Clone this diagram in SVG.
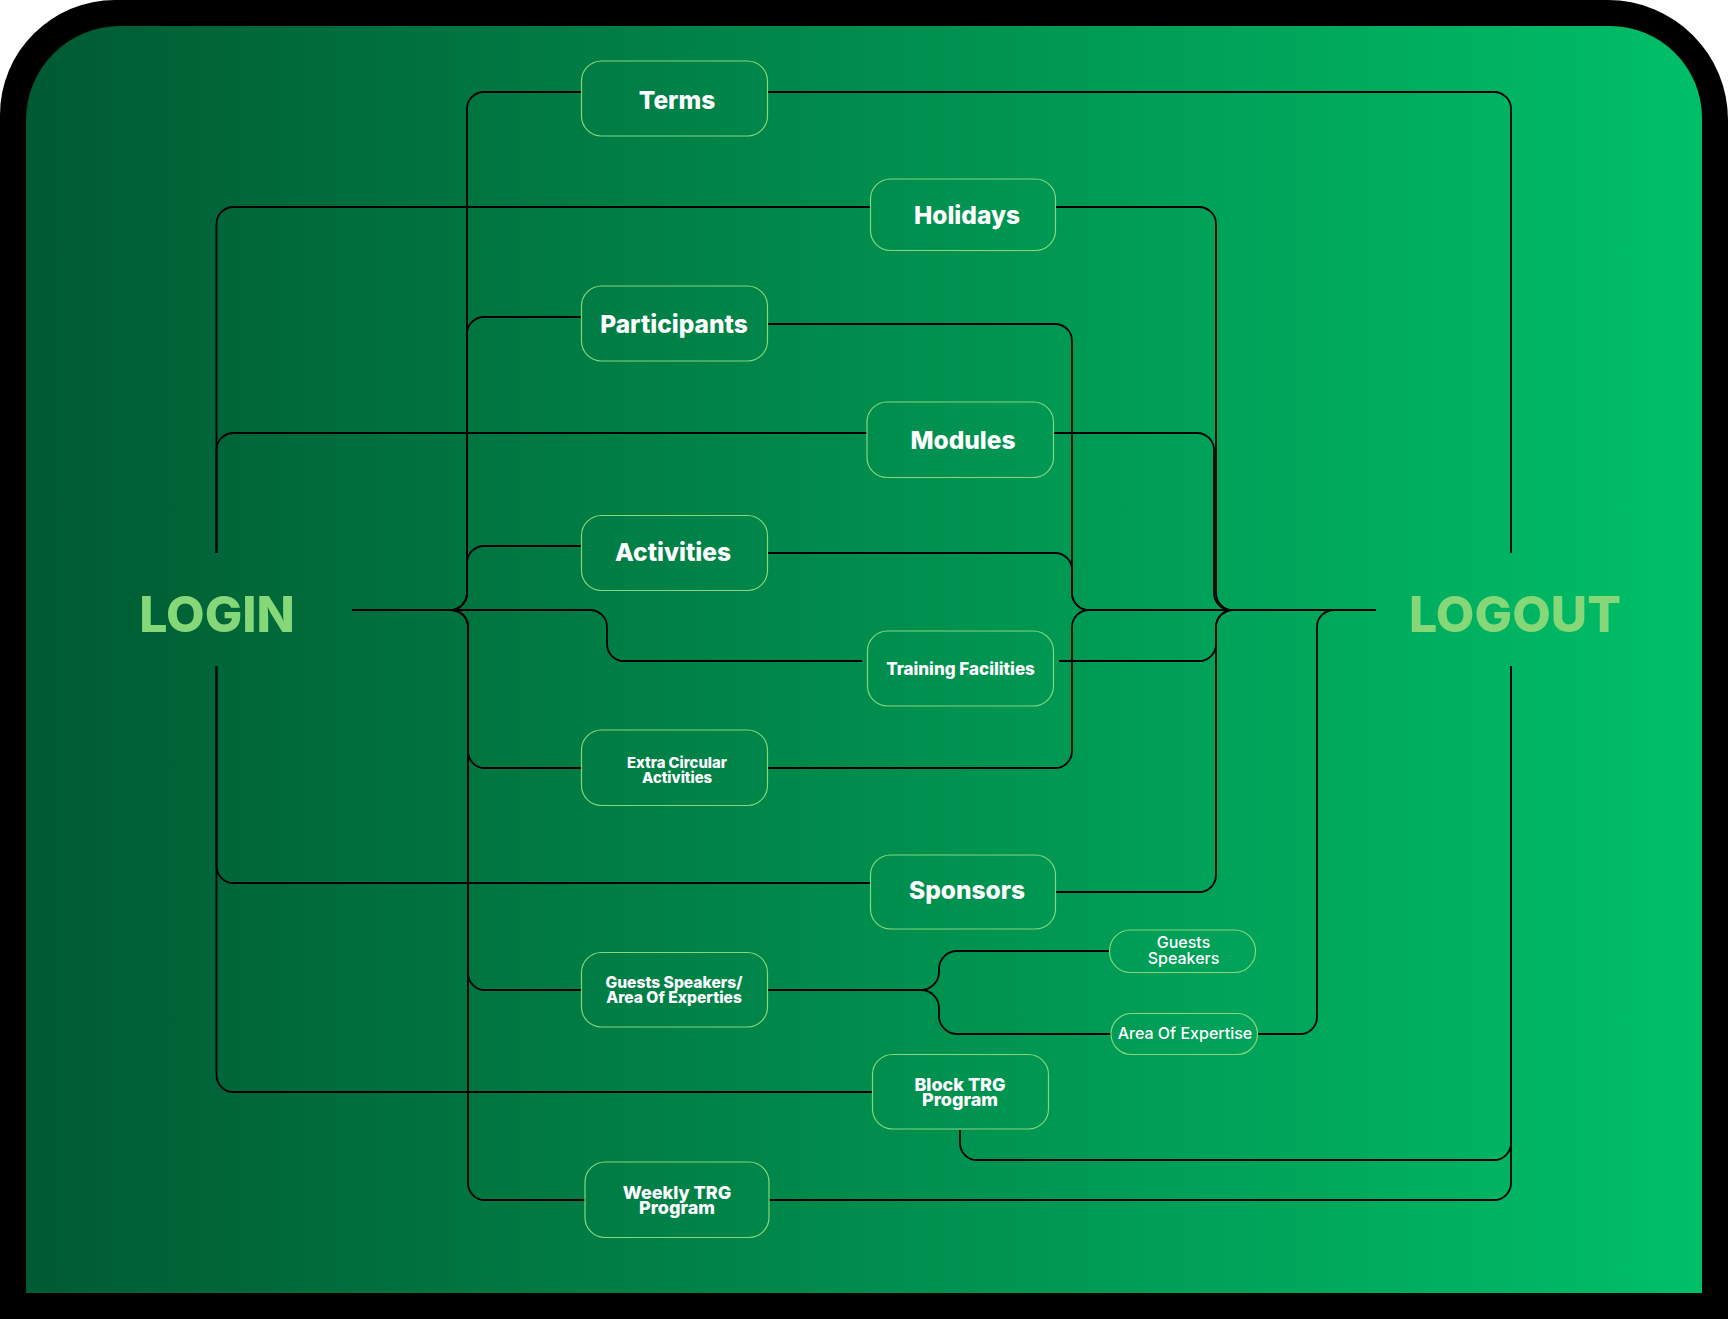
<svg xmlns="http://www.w3.org/2000/svg" width="1728" height="1319" viewBox="0 0 1728 1319">
<defs>
<linearGradient id="bg" x1="0" y1="0" x2="1" y2="0">
<stop offset="0" stop-color="#005a32"/>
<stop offset="1" stop-color="#00bf68"/>
</linearGradient>
<style>
.box{fill:none;stroke:#86d67a;stroke-width:1.2}
.t{font-family:Inter,"Liberation Sans",sans-serif;fill:#ffffff;text-anchor:middle;font-weight:800}
.big{font-size:24.5px}
.mid{font-size:17px}
.sm{font-size:14.8px}
.gs{font-size:15.6px}
.trg{font-size:18px}
.pill{font-family:Inter,"Liberation Sans",sans-serif;fill:#ffffff;text-anchor:middle;font-weight:500;font-size:16px}
.hub{font-family:Inter,"Liberation Sans",sans-serif;fill:#85d777;text-anchor:middle;font-weight:800;font-size:50px}
#connectors path{fill:none;stroke:#000000;stroke-width:1.8}
</style>
</defs>
<path d="M0,1319 V115 A115,115 0 0 1 115,0 H1608 A120,120 0 0 1 1728,120 V1319 Z" fill="#000000"/>
<path d="M26,1293 V120 A94,94 0 0 1 120,26 H1610 A92,92 0 0 1 1702,118 V1293 Z" fill="url(#bg)"/>

<g id="connectors">
<path d="M352,610 H450 A17,17 0 0 0 467,593 V109 A17,17 0 0 1 484,92 H581"/>
<path d="M352,610 H450 A17,17 0 0 0 467,593 V334 A17,17 0 0 1 484,317 H581"/>
<path d="M352,610 H450 A17,17 0 0 0 467,593 V563 A17,17 0 0 1 484,546 H581"/>
<path d="M352,610 H451 A17,17 0 0 1 468,627 V751 A17,17 0 0 0 485,768 H581"/>
<path d="M352,610 H451 A17,17 0 0 1 468,627 V973 A17,17 0 0 0 485,990 H581"/>
<path d="M352,610 H451 A17,17 0 0 1 468,627 V1183 A17,17 0 0 0 485,1200 H585"/>
<path d="M352,610 H590 A17,17 0 0 1 607,627 V644 A17,17 0 0 0 624,661 H862"/>
<path d="M216.5,553 V224 A17,17 0 0 1 233.5,207 H871"/>
<path d="M216.5,553 V450 A17,17 0 0 1 233.5,433 H867"/>
<path d="M216.5,666 V866 A17,17 0 0 0 233.5,883 H871"/>
<path d="M216.5,666 V1075 A17,17 0 0 0 233.5,1092 H872"/>
<path d="M768,324 H1055 A17,17 0 0 1 1072,341 V593 A17,17 0 0 0 1089,610 H1376"/>
<path d="M768,553 H1055 A17,17 0 0 1 1072,570 V593 A17,17 0 0 0 1089,610 H1376"/>
<path d="M768,768 H1055 A17,17 0 0 0 1072,751 V627 A17,17 0 0 1 1089,610 H1376"/>
<path d="M1056,207 H1199 A17,17 0 0 1 1216,224 V593 A17,17 0 0 0 1233,610 H1376"/>
<path d="M1054,433 H1197 A17,17 0 0 1 1214,450 V593 A17,17 0 0 0 1231,610 H1376"/>
<path d="M1059,661 H1199 A17,17 0 0 0 1216,644 V627 A17,17 0 0 1 1233,610 H1376"/>
<path d="M1056,892 H1199 A17,17 0 0 0 1216,875 V627 A17,17 0 0 1 1233,610 H1376"/>
<path d="M1257,1034 H1300 A17,17 0 0 0 1317,1017 V627 A17,17 0 0 1 1334,610 H1376"/>
<path d="M768,92 H1494 A17,17 0 0 1 1511,109 V553"/>
<path d="M960,1130 V1143 A17,17 0 0 0 977,1160 H1494 A17,17 0 0 0 1511,1143 V666"/>
<path d="M769,1200 H1494 A17,17 0 0 0 1511,1183 V666"/>
<path d="M768,990 H921 A18,18 0 0 0 939,972 V969 A18,18 0 0 1 957,951 H1109"/>
<path d="M768,990 H921 A18,18 0 0 1 939,1008 V1016 A18,18 0 0 0 957,1034 H1111"/>
</g>

<g id="login"><text class="hub" x="217" y="632">LOGIN</text></g>
<g id="logout"><text class="hub" x="1515" y="632">LOGOUT</text></g>

<g id="terms"><rect class="box" x="581.5" y="61" width="186" height="75" rx="20"/><text class="t big" x="677" y="109">Terms</text></g>
<g id="holidays"><rect class="box" x="870.5" y="179" width="185" height="71.5" rx="20"/><text class="t big" x="967" y="224">Holidays</text></g>
<g id="participants"><rect class="box" x="581.5" y="286" width="186" height="75" rx="20"/><text class="t big" x="674" y="332.5">Participants</text></g>
<g id="modules"><rect class="box" x="867" y="402" width="186.5" height="75.5" rx="20"/><text class="t big" x="963" y="449">Modules</text></g>
<g id="activities"><rect class="box" x="581.5" y="515.5" width="186" height="75" rx="20"/><text class="t big" x="673" y="561">Activities</text></g>
<g id="training-facilities"><rect class="box" x="867.5" y="631" width="186" height="75" rx="20"/><text class="t mid" x="960.5" y="675">Training Facilities</text></g>
<g id="extra-circular"><rect class="box" x="581.5" y="730" width="186" height="75.5" rx="20"/><text class="t sm" x="677" y="767.5">Extra Circular</text><text class="t sm" x="677" y="782.5">Activities</text></g>
<g id="sponsors"><rect class="box" x="870.5" y="855" width="185" height="74" rx="20"/><text class="t big" x="967" y="898.5">Sponsors</text></g>
<g id="guests-area"><rect class="box" x="581.5" y="952.5" width="186" height="74.5" rx="20"/><text class="t gs" x="674" y="987.5">Guests Speakers/</text><text class="t gs" x="674" y="1002.5">Area Of Experties</text></g>
<g id="guests-speakers"><rect class="box" x="1109.5" y="930" width="146" height="42.5" rx="21"/><text class="pill" x="1183.5" y="948.3">Guests</text><text class="pill" x="1183.5" y="964">Speakers</text></g>
<g id="area-of-expertise"><rect class="box" x="1111" y="1013.5" width="146.5" height="41" rx="20.5"/><text class="pill" x="1185" y="1039">Area Of Expertise</text></g>
<g id="block-trg"><rect class="box" x="872.5" y="1054.5" width="176" height="74.5" rx="20"/><text class="t trg" x="960" y="1091">Block TRG</text><text class="t trg" x="960" y="1106">Program</text></g>
<g id="weekly-trg"><rect class="box" x="585" y="1162" width="184" height="75.5" rx="20"/><text class="t trg" x="677" y="1198.5">Weekly TRG</text><text class="t trg" x="677" y="1213.5">Program</text></g>
</svg>
